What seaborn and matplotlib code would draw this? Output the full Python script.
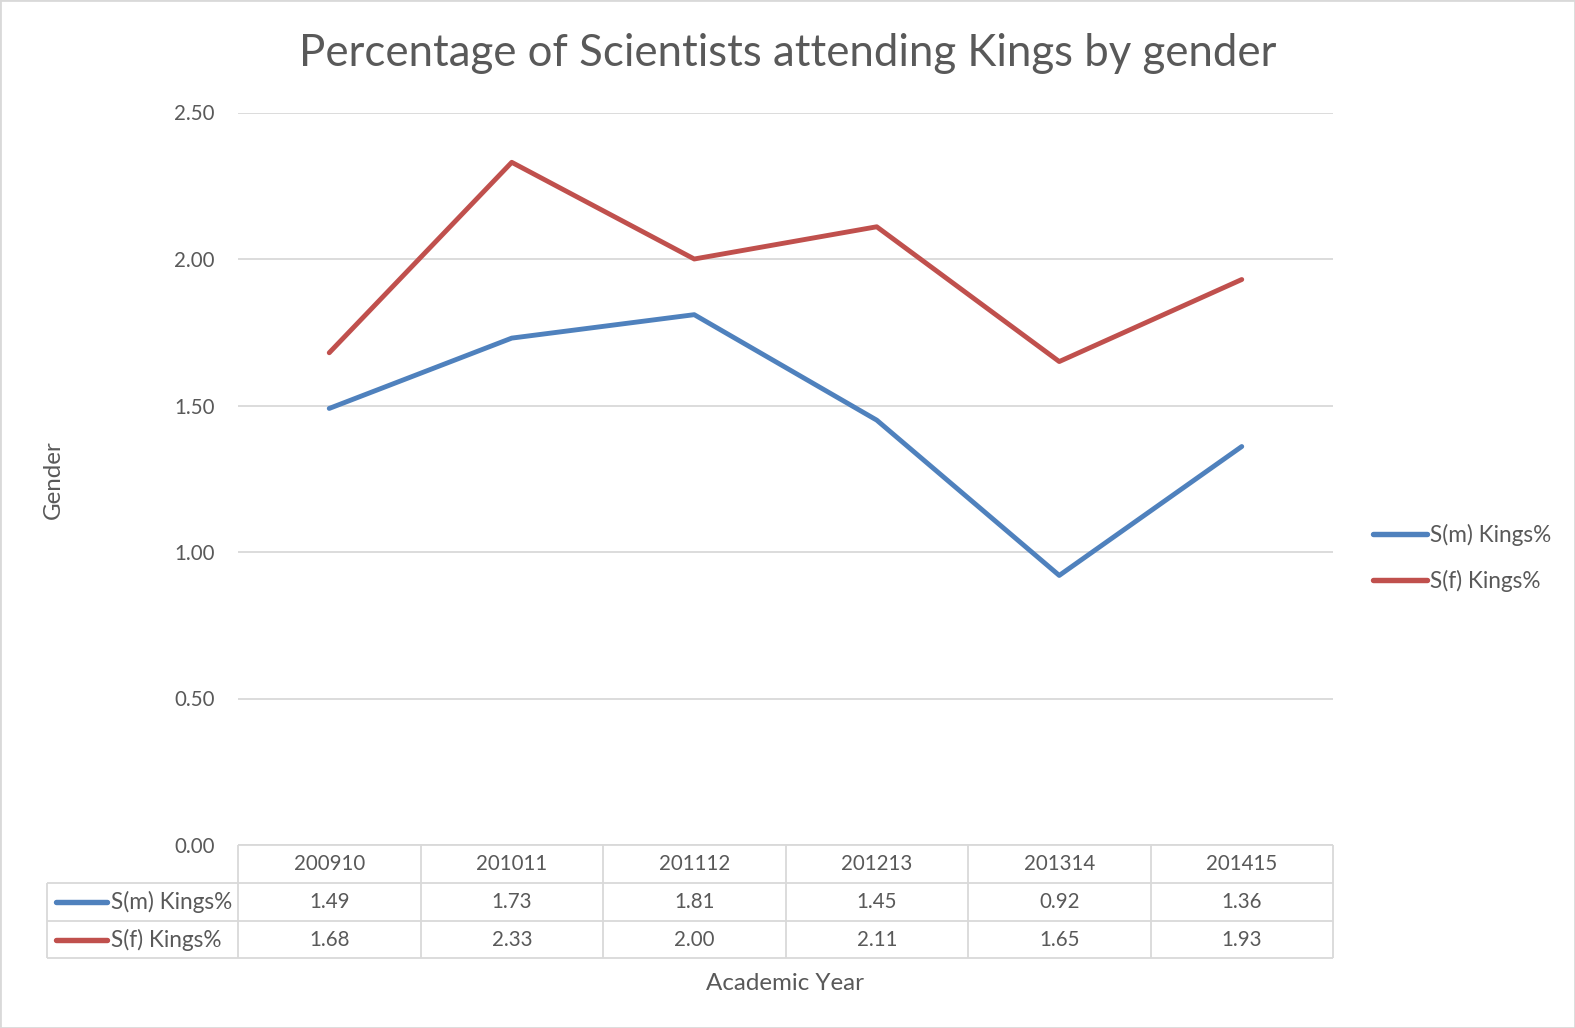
import matplotlib
matplotlib.use('Agg')
import matplotlib.pyplot as plt
from matplotlib.lines import Line2D
import seaborn as sns
import pandas as pd

# ---- data ----
years = ['200910', '201011', '201112', '201213', '201314', '201415']
male = [1.49, 1.73, 1.81, 1.45, 0.92, 1.36]
female = [1.68, 2.33, 2.00, 2.11, 1.65, 1.93]
series_names = ['S(m) Kings%', 'S(f) Kings%']
yticks = [0.0, 0.5, 1.0, 1.5, 2.0, 2.5]
title = 'Percentage of Scientists attending Kings by gender'
xlabel = 'Academic Year'
ylabel = 'Gender'

sns.set_theme(style='white')
plt.rcParams['font.family'] = ['Lato', 'DejaVu Sans']

TXT = '#595959'
GRID = '#d9d9d9'
colors = {series_names[0]: '#4F81BD', series_names[1]: '#C0504D'}
FS = 14.8      # numbers
FSL = 16.3     # text labels
LW = 3.5

W, H = 1575, 1028
fig = plt.figure(figsize=(W / 100, H / 100), dpi=100)


def fx(px):
    return px / W


def fy(py):
    return 1 - py / H


L, R, T, B = 238, 1333, 112.5, 845
ax = fig.add_axes([fx(L), fy(B), fx(R) - fx(L), fy(T) - fy(B)])

df = pd.DataFrame({
    'pos': list(range(len(years))) * 2,
    'value': male + female,
    'series': [series_names[0]] * len(years) + [series_names[1]] * len(years),
})
sns.lineplot(data=df, x='pos', y='value', hue='series', palette=colors,
             linewidth=LW, ax=ax, legend=True)
for ln in ax.lines:
    ln.set_solid_capstyle('round')

ax.set_xlim(-0.5, len(years) - 0.5)
ax.set_ylim(0, 2.5)
ax.set_yticks(yticks)
ax.set_yticklabels([f'{v:.2f}' for v in yticks])
ax.set_xticks([])
ax.set_xlabel('')
ax.set_ylabel('')
ax.tick_params(axis='y', length=0, pad=17, labelsize=FS, labelcolor=TXT)
ax.yaxis.grid(True, color=GRID, linewidth=1.3)
ax.xaxis.grid(False)
for s in ax.spines.values():
    s.set_visible(False)

# legend on the right
handles, labels = ax.get_legend_handles_labels()
leg = ax.legend(handles, labels, loc='center left', bbox_to_anchor=(fx(1373), fy(558)),
                bbox_transform=fig.transFigure, frameon=False, fontsize=FSL,
                handlelength=2.4, handletextpad=0.12, labelspacing=1.05,
                borderpad=0, borderaxespad=0, labelcolor=TXT)
for lh in leg.get_lines():
    lh.set_linewidth(LW + 0.4)
    lh.set_solid_capstyle('round')

# ---- data table ----
def xdata_px(x):
    return ax.transData.transform((x, 0))[0]


def add_line(x0, y0, x1, y1, **kw):
    fig.add_artist(Line2D([fx(x0), fx(x1)], [fy(y0), fy(y1)], transform=fig.transFigure,
                          color=kw.get('color', GRID), linewidth=kw.get('lw', 1.3),
                          solid_capstyle=kw.get('cap', 'butt')))


rows = [845, 883, 921, 958]
left_px = 47
n = len(years)
bounds = [xdata_px(i - 0.5) for i in range(n + 1)]
# horizontal lines
add_line(bounds[0], rows[0], bounds[-1], rows[0])
for ry in rows[1:]:
    add_line(left_px, ry, bounds[-1], ry)
# vertical lines
for bx in bounds:
    add_line(bx, rows[0], bx, rows[-1])
add_line(left_px, rows[1], left_px, rows[-1])

centers = [(rows[i] + rows[i + 1]) / 2 for i in range(3)]
for i, yr in enumerate(years):
    cx = xdata_px(i)
    fig.text(fx(cx), fy(centers[0]), yr, ha='center', va='center', fontsize=FS, color=TXT)
    fig.text(fx(cx), fy(centers[1]), f'{male[i]:.2f}', ha='center', va='center', fontsize=FS, color=TXT)
    fig.text(fx(cx), fy(centers[2]), f'{female[i]:.2f}', ha='center', va='center', fontsize=FS, color=TXT)

for k, name in enumerate(series_names):
    cy = centers[k + 1]
    add_line(56, cy, 107, cy, color=colors[name], lw=LW + 0.4, cap='round')
    fig.text(fx(111), fy(cy), name, ha='left', va='center', fontsize=FSL, color=TXT)

# titles
fig.text(fx(788), fy(53), title, ha='center', va='center', fontsize=31.5, color=TXT)
fig.text(fx(785), fy(983), xlabel, ha='center', va='center', fontsize=17.4, color=TXT)
fig.text(fx(53), fy(480), ylabel, ha='center', va='center', rotation=90, fontsize=17.4, color=TXT)

# chart border
fig.add_artist(plt.Rectangle((0, 0), 1, 1, transform=fig.transFigure, fill=False,
                             edgecolor=GRID, linewidth=2))

fig.savefig('out.png', dpi=100)
